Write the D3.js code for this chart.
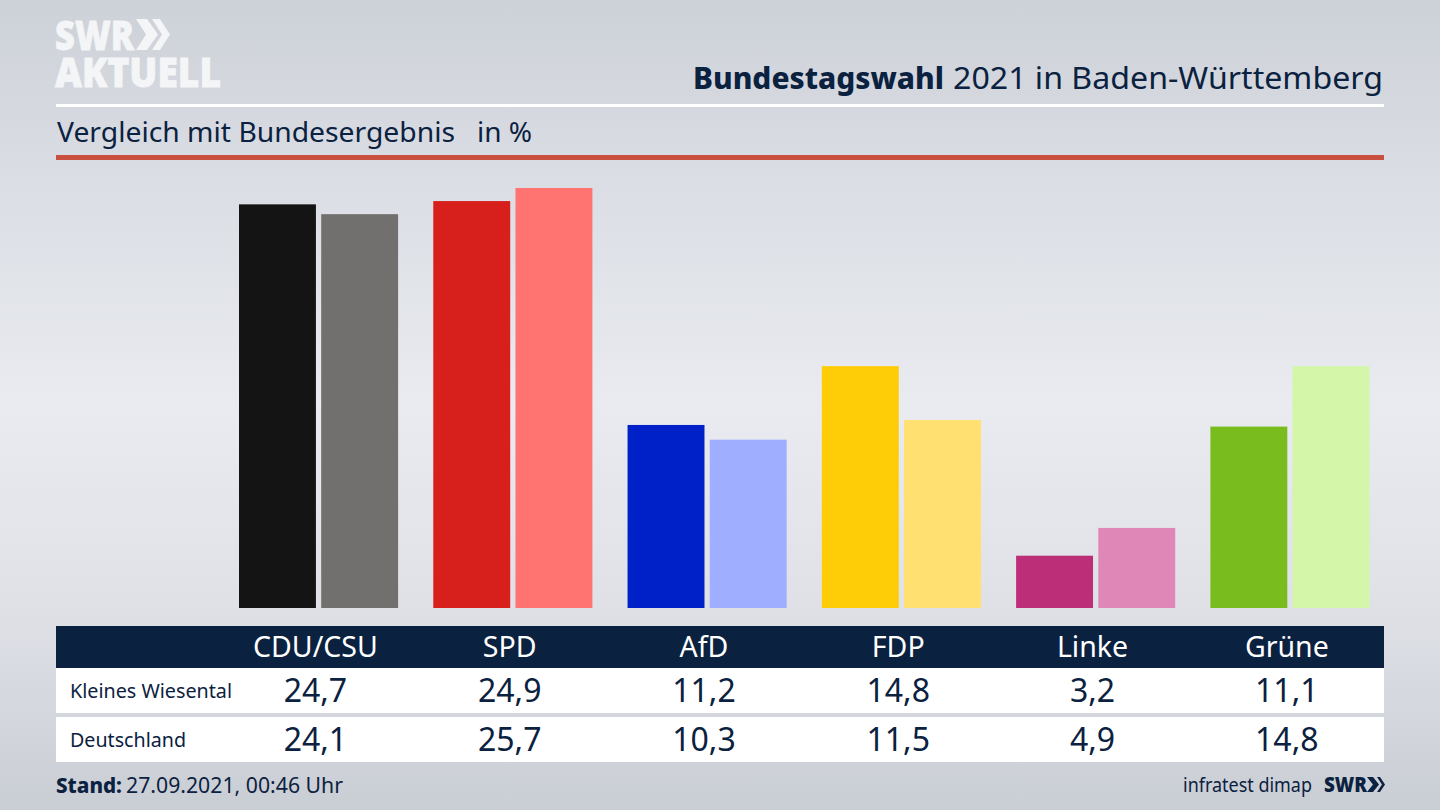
<!DOCTYPE html>
<html><head><meta charset="utf-8">
<script src="https://cdn.jsdelivr.net/npm/d3@7"></script>
<style>html,body{margin:0;padding:0;background:#d8dbe1;overflow:hidden}svg{display:block}text{font-family:"Noto Sans",sans-serif}</style>
</head><body><svg id="c" width="1440" height="810"></svg>
<script>
const parties=["CDU/CSU","SPD","AfD","FDP","Linke","Grüne"];
const regionNames=["Kleines Wiesental","Deutschland"];
const wiesental=[24.7,24.9,11.2,14.8,3.2,11.1];
const deutschland=[24.1,25.7,10.3,11.5,4.9,14.8];
const strongColors=["#141414","#d71f1c","#0020c8","#ffcc08","#bc2e78","#78bc1e"];
const lightColors=["#71706e","#ff7370","#9faeff","#ffe070","#df88b7","#d3f6a8"];
const titleBold="Bundestagswahl";
const titleRest="2021 in Baden-Württemberg";
const subtitle="Vergleich mit Bundesergebnis";
const unit="in %";
const standLabel="Stand:";
const standValue="27.09.2021, 00:46 Uhr";
const source="infratest dimap";
const navy="#0b2140";
const fmt=v=>String(v.toFixed(1)).replace(".",",");

const svg=d3.select("#c");
const defs=svg.append("defs");
const g=defs.append("linearGradient").attr("id","bg").attr("x1",0).attr("y1",0).attr("x2",0).attr("y2",1);
[[0,"#cdd1d8"],[.25,"#dcdfe5"],[.5,"#e9ebf0"],[.75,"#dfe1e7"],[1,"#c9cdd4"]].forEach(d=>g.append("stop").attr("offset",d[0]).attr("stop-color",d[1]));
svg.append("rect").attr("width",1440).attr("height",810).attr("fill","url(#bg)");

// Logo
const logo=svg.append("text").attr("font-weight",900).attr("fill","#f4f5f7").style("font-family","'Open Sans',sans-serif").attr("stroke","#f4f5f7").attr("stroke-width",.8);
logo.append("tspan").attr("x",55).attr("y",50).attr("font-size",41).attr("textLength",79).attr("lengthAdjust","spacingAndGlyphs").text("SWR");
logo.append("tspan").attr("x",55).attr("y",87).attr("font-size",41).attr("textLength",166).attr("lengthAdjust","spacingAndGlyphs").text("AKTUELL");
svg.append("path").attr("fill","#f4f5f7").attr("d","M136 19h11l11 15.5-11 15.5h-11l10-15.5zM152 19h8l10 15.5-10 15.5h-8l10-15.5z");

// Header
svg.append("text").attr("x",693).attr("y",89).attr("font-size",31).attr("font-weight",800).attr("fill",navy).attr("textLength",251).attr("lengthAdjust","spacingAndGlyphs").text(titleBold);
svg.append("text").attr("x",953).attr("y",89).attr("font-size",31).attr("fill",navy).attr("textLength",430).attr("lengthAdjust","spacingAndGlyphs").text(titleRest);
svg.append("rect").attr("x",56).attr("y",104).attr("width",1328).attr("height",3).attr("fill","#fff");
svg.append("text").attr("x",57).attr("y",142).attr("font-size",28).attr("fill",navy).attr("textLength",398).attr("lengthAdjust","spacingAndGlyphs").text(subtitle);
svg.append("text").attr("x",477).attr("y",142).attr("font-size",28).attr("fill",navy).text(unit);
svg.append("rect").attr("x",56).attr("y",155).attr("width",1328).attr("height",5).attr("fill","#c9503f");

// Bars
const x=d3.scaleBand().domain(parties).range([239,1369.5]).paddingInner(.181);
const sub=d3.scaleBand().domain([0,1]).range([0,x.bandwidth()]).paddingInner(.064);
const y=d3.scaleLinear().domain([0,25.7]).range([608,188]);
[[wiesental,strongColors,0],[deutschland,lightColors,1]].forEach(([vals,cols,k])=>{
  svg.append("g").selectAll("rect").data(parties).join("rect")
   .attr("x",d=>x(d)+sub(k)).attr("width",sub.bandwidth())
   .attr("y",(d,i)=>y(vals[i])).attr("height",(d,i)=>y(0)-y(vals[i]))
   .attr("fill",(d,i)=>cols[i]);
});

// Table
const cx=d=>x(d)+sub.bandwidth()-0.5;
svg.append("rect").attr("x",56).attr("y",626).attr("width",1328).attr("height",42).attr("fill",navy);
svg.append("rect").attr("x",56).attr("y",668).attr("width",1328).attr("height",45).attr("fill","#fff");
svg.append("rect").attr("x",56).attr("y",717).attr("width",1328).attr("height",45).attr("fill","#fff");
svg.append("g").selectAll("text").data(parties).join("text").attr("x",cx).attr("y",657).attr("text-anchor","middle").attr("font-size",28.5).attr("fill","#fff").text(d=>d);
[[wiesental,701,0],[deutschland,750,1]].forEach(([vals,yy,k])=>{
  svg.append("text").attr("x",70).attr("y",yy-3.5).attr("font-size",20).attr("fill",navy).attr("textLength",k?116:162).attr("lengthAdjust","spacingAndGlyphs").text(regionNames[k]);
  svg.append("g").selectAll("text").data(parties).join("text").attr("x",cx).attr("y",yy+1).attr("text-anchor","middle").attr("font-size",32).attr("fill",navy).text((d,i)=>fmt(vals[i]));
});

// Footer
svg.append("text").attr("x",56).attr("y",793).attr("font-size",22).attr("font-weight",800).attr("fill",navy).attr("textLength",66).attr("lengthAdjust","spacingAndGlyphs").text(standLabel);
svg.append("text").attr("x",126).attr("y",793).attr("font-size",22).attr("fill",navy).attr("textLength",217).attr("lengthAdjust","spacingAndGlyphs").text(standValue);
svg.append("text").attr("x",1183).attr("y",792).attr("font-size",20).attr("fill",navy).attr("textLength",129).attr("lengthAdjust","spacingAndGlyphs").text(source);
svg.append("text").attr("x",1324).attr("y",792).attr("font-size",21).attr("font-weight",900).attr("fill",navy).style("font-family","'Open Sans',sans-serif").attr("textLength",43).attr("lengthAdjust","spacingAndGlyphs").text("SWR");
svg.append("path").attr("fill",navy).attr("d","M1367 777h6l6 7.5-6 7.5h-6l6-7.5zM1377 777h3l5 7.5-5 7.5h-3l5-7.5z");
</script></body></html>
